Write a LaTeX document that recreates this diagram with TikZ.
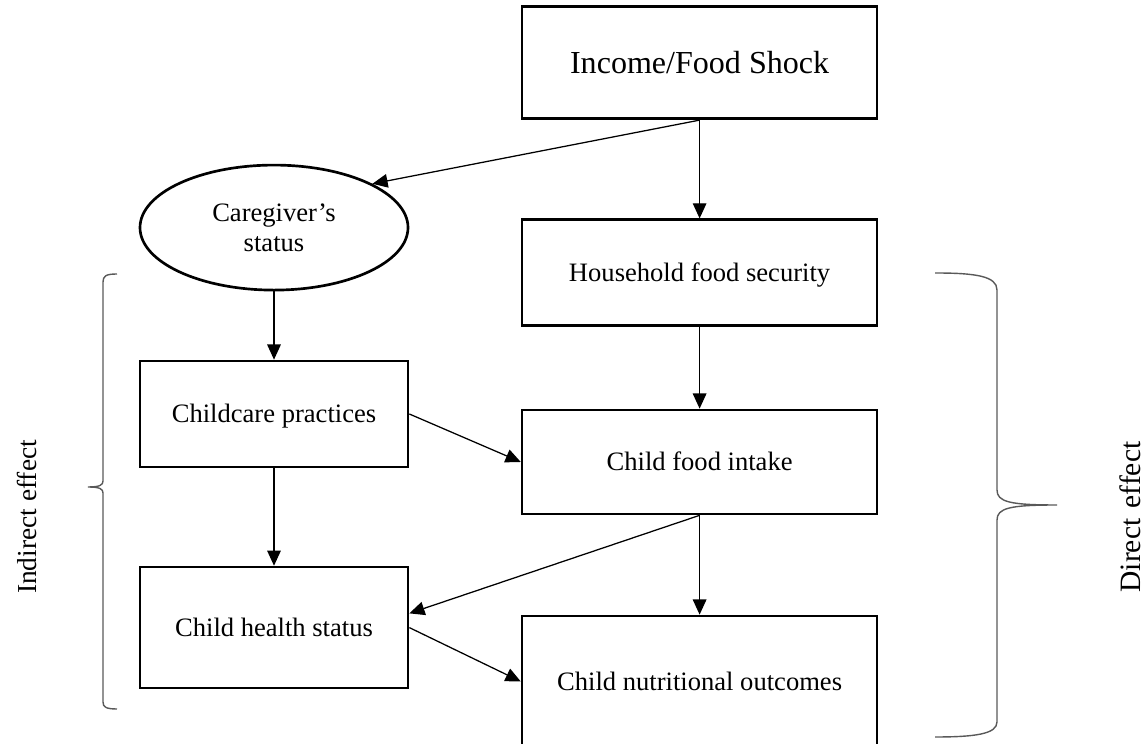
\documentclass[tikz,border=0pt]{standalone}
\usepackage{fontspec}
\setmainfont{Liberation Serif}
\usetikzlibrary{arrows.meta,positioning,shapes.geometric}

\begin{document}
\begin{tikzpicture}[
  factor/.style={draw, line width=1.9pt, minimum width=8.875cm, inner sep=2pt,
    font=\fontsize{18.9}{21.5}\selectfont, text height=14pt, text depth=1.5pt},
  narrow/.style={minimum width=6.7cm},
  link/.style={-{Triangle[length=0.38cm, width=0.34cm]}, line width=0.9pt},
  bracket/.style={draw=black!65, line width=1pt},
  sidelabel/.style={rotate=90, font=\fontsize{19.5}{22}\selectfont}
]
  \useasboundingbox (0,0) rectangle (28.675,18.6);

  % Right column: shock and direct pathway
  \node[factor, minimum height=2.8cm, font=\fontsize{22.8}{26}\selectfont, text height=17pt, text depth=2pt] (shock) at (17.49, 17.03) {Income/Food Shock};
  \node[factor, minimum height=2.65cm] (hfs) at (17.49, 11.78) {Household food security};
  \node[factor, minimum height=2.6cm] (intake) at (17.49, 7.05) {Child food intake};
  \node[factor, minimum height=3.275cm] (outcome) at (17.49, 1.5625) {Child nutritional outcomes};

  % Left column: caregiver and indirect pathway
  \node[draw, ellipse, line width=1.9pt, minimum width=6.7cm, minimum height=3.125cm, align=center,
    font=\fontsize{18.9}{21.5}\selectfont] (carer) at (6.85, 12.91) {Caregiver’s\\status};
  \node[factor, narrow, minimum height=2.65cm] (care) at (6.85, 8.25) {Childcare practices};
  \node[factor, narrow, minimum height=3.025cm] (health) at (6.85, 2.91) {Child health status};

  % Arrows
  \draw[link] (shock.south) -- (carer.24);
  \draw[link] (shock.south) -- (hfs.north);
  \draw[link] (carer.south) -- (care.north);
  \draw[link] (hfs.south) -- (intake.north);
  \draw[link] (care.east) -- (intake.west);
  \draw[link] (care.south) -- (health.north);
  \draw[link] (intake.south) -- (health.6);
  \draw[link] (intake.south) -- (outcome.north);
  \draw[link] (health.east) -- (outcome.west);

  % Braces
  \draw[bracket] (2.925,11.75) .. controls (2.65,11.75) and (2.575,11.7) .. (2.575,11.55)
    -- (2.575,6.575) .. controls (2.575,6.475) and (2.5,6.425) .. (2.2,6.425)
    .. controls (2.5,6.425) and (2.575,6.375) .. (2.575,6.275)
    -- (2.575,1.05) .. controls (2.575,0.925) and (2.65,0.875) .. (2.925,0.875);
  \draw[bracket] (23.375,11.775) .. controls (24.375,11.775) and (24.925,11.7) .. (24.925,11.35)
    -- (24.925,6.35) .. controls (24.925,6.05) and (25.25,5.975) .. (26.425,5.975)
    .. controls (25.25,5.975) and (24.925,5.9) .. (24.925,5.6)
    -- (24.925,0.55) .. controls (24.925,0.25) and (24.375,0.175) .. (23.375,0.175);

  % Side labels
  \node[sidelabel] (indirect) at (0.675, 5.675) {Indirect effect};
  \node[sidelabel, font=\fontsize{21}{24}\selectfont] (direct) at (28.25, 5.675) {Direct\hspace{0.1em} effect};
\end{tikzpicture}
\end{document}
